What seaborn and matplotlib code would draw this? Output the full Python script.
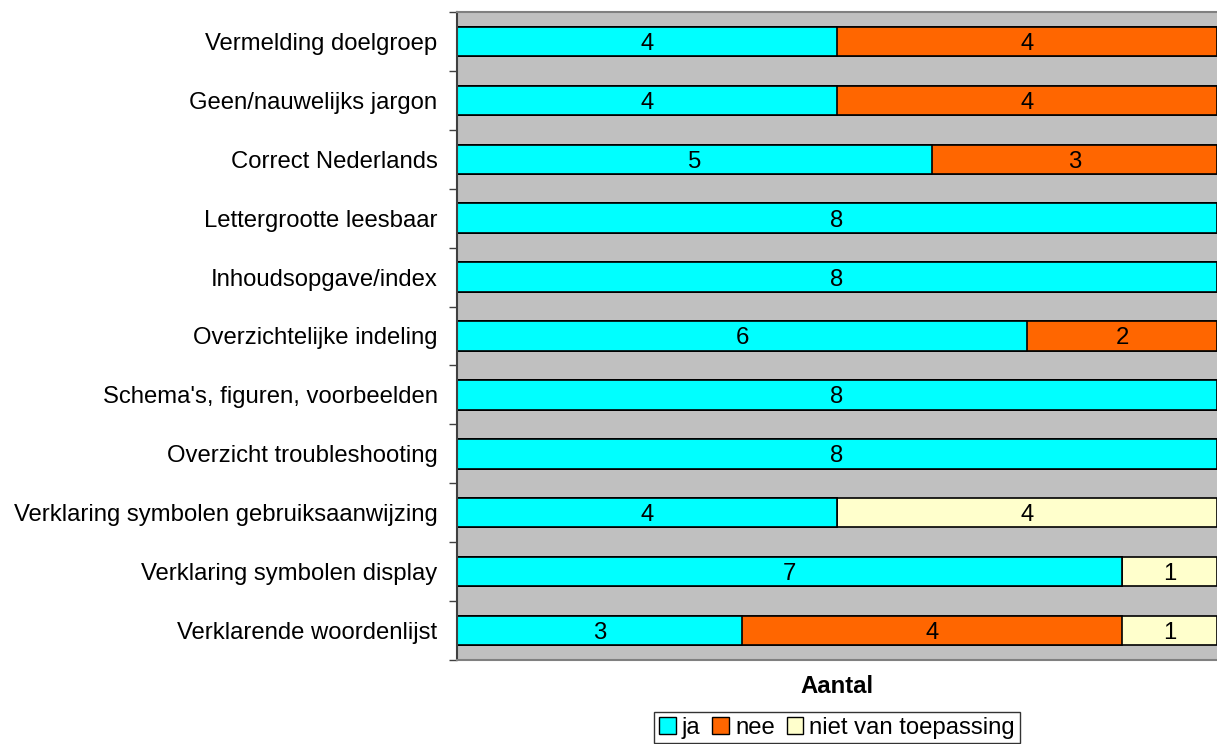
import numpy as np
import pandas as pd
import seaborn as sns
import matplotlib.pyplot as plt
from matplotlib.patches import Patch

# categorieën en aantallen
categories = ["Vermelding doelgroep", "Geen/nauwelijks jargon", "Correct Nederlands",
              "Lettergrootte leesbaar", "Inhoudsopgave/index", "Overzichtelijke indeling",
              "Schema's, figuren, voorbeelden", "Overzicht troubleshooting",
              "Verklaring symbolen gebruiksaanwijzing", "Verklaring symbolen display",
              "Verklarende woordenlijst"]
ja = [4, 4, 5, 8, 8, 6, 8, 8, 4, 7, 3]
nee = [4, 4, 3, 0, 0, 2, 0, 0, 0, 0, 4]
nvt = [0, 0, 0, 0, 0, 0, 0, 0, 4, 1, 1]
series_names = ["ja", "nee", "niet van toepassing"]
colors = ["#00FFFF", "#FF6600", "#FFFFCC"]

sns.set_style("white")
plt.rcParams['font.family'] = ['Liberation Sans', 'DejaVu Sans']
plt.rcParams['text.color'] = 'black'
plt.rcParams['axes.labelcolor'] = 'black'
plt.rcParams['ytick.color'] = 'black'
fs = 17.2

df = pd.DataFrame({"cat": categories, "ja": ja, "nee": nee, "nvt": nvt})
df["c1"] = df["ja"]
df["c2"] = df["ja"] + df["nee"]
df["c3"] = df["ja"] + df["nee"] + df["nvt"]

fig = plt.figure(figsize=(12.17, 7.44), dpi=100)
ax = fig.add_axes([457 / 1217, 1 - 660 / 744, 1 - 457 / 1217, 648 / 744])
ax.set_facecolor("#C0C0C0")

# gestapeld: eerst totaal, dan overlappen
for col, c in zip(["c3", "c2", "c1"], colors[::-1]):
    sns.barplot(data=df, y="cat", x=col, color=c, orient="h", width=0.5,
                edgecolor="black", linewidth=1.2, saturation=1, ax=ax)

# waarden in de balken
for i in range(len(categories)):
    left = 0
    for v in (ja[i], nee[i], nvt[i]):
        if v > 0:
            ax.text(left + v / 2, i, str(v), ha="center", va="center_baseline", fontsize=fs)
        left += v

ax.set_xlim(0, 8)
ax.set_ylim(len(categories) - 0.5, -0.5)
ax.set_xticks([])
ax.set_yticks(np.arange(len(categories)))
ax.set_yticklabels(categories, fontsize=fs)
ax.set_yticks(np.arange(len(categories) + 1) - 0.5, minor=True)
ax.tick_params(axis="y", which="major", length=0, pad=14)
ax.tick_params(axis="y", which="minor", length=6, width=1, color="#404040", left=True)
ax.set_ylabel("")
ax.set_xlabel("Aantal", fontsize=fs, fontweight="bold", labelpad=11)

for s in ["top", "bottom", "left"]:
    ax.spines[s].set_color("#808080")
    ax.spines[s].set_linewidth(1.5)
ax.spines["left"].set_color("#404040")
ax.spines["right"].set_visible(False)

handles = [Patch(facecolor=c, edgecolor="black", label=n) for c, n in zip(colors, series_names)]
leg = ax.legend(handles=handles, loc="upper center", bbox_to_anchor=(0.5, -0.08), ncol=3,
                fontsize=fs, frameon=True, fancybox=False, edgecolor="black",
                handlelength=0.7, handleheight=0.7, handletextpad=0.25, columnspacing=0.5,
                borderpad=0.2, borderaxespad=0)
leg.get_frame().set_linewidth(1)

fig.savefig("out.png", dpi=100)
